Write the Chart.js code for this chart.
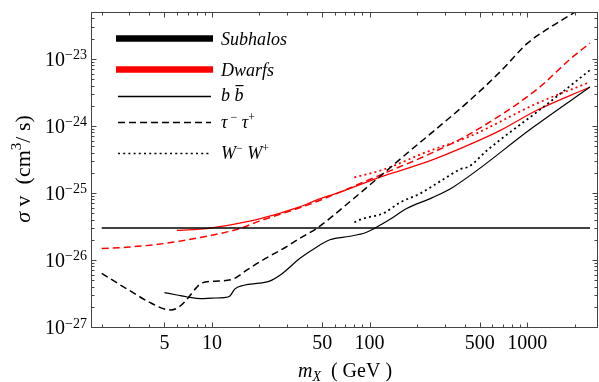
<!DOCTYPE html>
<html><head><meta charset="utf-8">
<script src="https://cdn.jsdelivr.net/npm/chart.js@4/dist/chart.umd.min.js"></script>
<style>html,body{margin:0;padding:0;background:#fff;overflow:hidden}#wrap{width:599px;height:382px}</style>
</head><body><div id="wrap"><canvas id="c" width="599" height="382"></canvas></div>
<script>
// ---------- data (GeV, cm^3/s) ----------
const subhaloLevelMass = [2, 2500];
const subhaloLevelSigma = [3e-26, 3e-26];

const bbSubMass  = [5, 6, 7, 8.5, 10, 12, 13, 14, 16, 20, 23, 28, 36, 45, 56, 75, 94, 110, 134, 172, 250, 340, 1100, 2500];
const bbSubSigma = [3.26e-27, 3.0e-27, 2.8e-27, 2.65e-27, 2.7e-27, 2.75e-27, 2.9e-27, 3.7e-27, 4.2e-27, 4.5e-27, 4.8e-27, 6.3e-27, 1.05e-26, 1.5e-26, 2.0e-26, 2.26e-26, 2.55e-26, 3.05e-26, 4.0e-26, 5.85e-26, 8.5e-26, 1.23e-25, 9.7e-25, 3.8e-24];

const ttSubMass  = [2, 3, 4, 5, 5.5, 6.2, 7, 8, 8.5, 10, 13.3, 17, 20, 30, 36, 46, 79, 100, 123, 172, 254, 433, 690, 1000, 1300, 2000, 2500];
const ttSubSigma = [6.3e-27, 3.5e-27, 2.35e-27, 1.85e-27, 1.8e-27, 2.0e-27, 2.65e-27, 3.9e-27, 4.45e-27, 4.8e-27, 5.1e-27, 7.3e-27, 9.3e-27, 1.6e-26, 2.1e-26, 2.94e-26, 8.2e-26, 1.31e-25, 1.97e-25, 3.87e-25, 8.3e-25, 2.42e-24, 6.8e-24, 1.7e-23, 2.65e-23, 4.95e-23, 6.8e-23];

const wwSubMass  = [80, 90, 123, 156, 209, 294, 375, 430, 555, 1270, 2500];
const wwSubSigma = [3.65e-26, 4.1e-26, 5.0e-26, 7.2e-26, 9.8e-26, 1.6e-25, 2.25e-25, 2.5e-25, 4.3e-25, 1.92e-24, 6.8e-24];

const bbDwMass  = [6, 8, 10, 15, 20, 36, 46, 65, 123, 231, 433, 690, 1150, 2500];
const bbDwSigma = [2.77e-26, 2.85e-26, 3.02e-26, 3.55e-26, 4.1e-26, 6.2e-26, 7.8e-26, 1.03e-25, 1.8e-25, 2.9e-25, 5.3e-25, 8.8e-25, 1.71e-24, 3.8e-24];

const ttDwMass  = [2, 3, 5, 7, 10, 15, 20, 36, 50, 79, 123, 231, 433, 1150, 1880, 2500];
const ttDwSigma = [1.48e-26, 1.56e-26, 1.76e-26, 2.0e-26, 2.34e-26, 2.94e-26, 3.8e-26, 6.0e-26, 8.0e-26, 1.25e-25, 1.95e-25, 3.66e-25, 7.6e-25, 3.5e-24, 1.0e-23, 1.72e-23];

const wwDwMass  = [80, 123, 231, 433, 1150, 2500];
const wwDwSigma = [1.7e-25, 2.24e-25, 4.1e-25, 7.0e-25, 2.16e-24, 4.5e-24];

// ---------- ticks & labels ----------
const xMajorTicks = [5, 10, 50, 100, 500, 1000];
const xMinorTicks = [2, 3, 4, 6, 7, 8, 9, 20, 30, 40, 60, 70, 80, 90, 200, 300, 400, 600, 700, 800, 900, 2000];
const yMajorExponents = [-27, -26, -25, -24, -23];
const yMinorFactors = [2, 3, 4, 5, 6, 7, 8, 9];
const legendLabels = ['Subhalos', 'Dwarfs'];

const SERIF = '"Liberation Serif", "Times New Roman", serif';

function pts(xs, ys) { return xs.map((x, i) => ({x: x, y: ys[i]})); }

function ds(xs, ys, color, width, dash) {
  return {
    data: pts(xs, ys), borderColor: color, borderWidth: width, borderDash: dash || [],
    pointRadius: 0, fill: false, cubicInterpolationMode: 'monotone', borderCapStyle: 'butt'
  };
}

const RED = '#ff0000';
const DASH = [7, 4];
const DOT = [2, 3.2];

function fontOf(p) { return (p.it ? 'italic ' : '') + (p.size || 20) + 'px ' + SERIF; }

function drawRich(ctx, parts, x, y, align) {
  let w = 0;
  for (const p of parts) { ctx.font = fontOf(p); p.w = ctx.measureText(p.t).width + (p.sp || 0); w += p.w; }
  let cx = align === 'right' ? x - w : (align === 'center' ? x - w / 2 : x);
  for (const p of parts) {
    ctx.font = fontOf(p);
    ctx.fillText(p.t, cx, y + (p.dy || 0));
    if (p.bar) {
      const bw = ctx.measureText(p.t).width;
      ctx.fillRect(cx + 1, y - 16, bw - 1, 1.2);
    }
    cx += p.w;
  }
}

const framePlugin = {
  id: 'framePlugin',
  afterDatasetsDraw(chart) {
    const ctx = chart.ctx, a = chart.chartArea;
    const xs = chart.scales.x, ys = chart.scales.y;
    ctx.save();
    // frame
    ctx.strokeStyle = '#444'; ctx.lineWidth = 1;
    ctx.strokeRect(Math.round(a.left) + 0.5, Math.round(a.top) + 0.5, Math.round(a.right - a.left) - 1, Math.round(a.bottom - a.top));
    const L = Math.round(a.left) + 0.5, R = Math.round(a.right) - 0.5, T = Math.round(a.top) + 0.5, B = Math.round(a.bottom) + 0.5;
    ctx.beginPath();
    const xTick = (v, len) => {
      const px = Math.round(xs.getPixelForValue(v)) + 0.5;
      ctx.moveTo(px, B); ctx.lineTo(px, B - len);
      ctx.moveTo(px, T); ctx.lineTo(px, T + len);
    };
    const yTick = (v, len) => {
      const py = Math.round(ys.getPixelForValue(v)) + 0.5;
      if (py < T - 1 || py > B + 1) return;
      ctx.moveTo(L, py); ctx.lineTo(L + len, py);
      ctx.moveTo(R, py); ctx.lineTo(R - len, py);
    };
    xMajorTicks.forEach(v => xTick(v, 5));
    xMinorTicks.forEach(v => xTick(v, 3));
    yMajorExponents.forEach(e => {
      yTick(Math.pow(10, e), 5);
      yMinorFactors.forEach(f => yTick(f * Math.pow(10, e), 3));
    });
    ctx.stroke();

    // tick labels
    ctx.fillStyle = '#000';
    ctx.textBaseline = 'alphabetic';
    xMajorTicks.forEach(v => {
      const px = xs.getPixelForValue(v);
      drawRich(ctx, [{t: String(v), size: 20}], px, 349, 'center');
    });
    yMajorExponents.forEach(e => {
      const py = ys.getPixelForValue(Math.pow(10, e));
      drawRich(ctx, [{t: '10', size: 20}, {t: '\u2212' + Math.abs(e), size: 14, dy: -6.5}], 87, py + 7, 'right');
    });

    // axis titles
    drawRich(ctx, [{t: 'm', it: true, size: 20}, {t: 'X', it: true, size: 14, dy: 4}, {t: '  ( GeV )', size: 20}], 345, 377, 'center');
    ctx.save();
    ctx.translate(30, 169);
    ctx.rotate(-Math.PI / 2);
    drawRich(ctx, [{t: '\u03C3', it: true, size: 22}, {t: ' v  (cm', size: 22}, {t: '3', size: 15, dy: -9}, {t: '/ s)', size: 22}], 0, 0, 'center');
    ctx.restore();

    // legend
    const lx0 = 116, lx1 = 213, tx = 221;
    ctx.lineCap = 'butt';
    ctx.lineWidth = 6.5; ctx.strokeStyle = '#000'; ctx.setLineDash([]);
    ctx.beginPath(); ctx.moveTo(lx0, 38.5); ctx.lineTo(lx1, 38.5); ctx.stroke();
    ctx.strokeStyle = RED;
    ctx.beginPath(); ctx.moveTo(lx0, 69.5); ctx.lineTo(lx1, 69.5); ctx.stroke();
    ctx.strokeStyle = '#000'; ctx.lineWidth = 1.3;
    ctx.beginPath(); ctx.moveTo(118, 96.5); ctx.lineTo(211, 96.5); ctx.stroke();
    ctx.setLineDash(DASH);
    ctx.beginPath(); ctx.moveTo(118, 122.5); ctx.lineTo(211, 122.5); ctx.stroke();
    ctx.setLineDash(DOT); ctx.lineWidth = 1.5;
    ctx.beginPath(); ctx.moveTo(118, 153.5); ctx.lineTo(211, 153.5); ctx.stroke();
    ctx.setLineDash([]);

    ctx.fillStyle = '#000';
    drawRich(ctx, [{t: legendLabels[0], it: true, size: 18}], tx, 45, 'left');
    drawRich(ctx, [{t: legendLabels[1], it: true, size: 18}], tx, 76, 'left');
    drawRich(ctx, [{t: 'b', it: true, size: 18}, {t: ' ', size: 18}, {t: 'b', it: true, size: 18, bar: true}], tx, 101, 'left');
    drawRich(ctx, [{t: '\u03C4', it: true, size: 18}, {t: ' \u2212', size: 12, dy: -7}, {t: ' \u03C4', it: true, size: 18}, {t: '+', size: 12, dy: -7}], tx, 128, 'left');
    drawRich(ctx, [{t: 'W', it: true, size: 18}, {t: '\u2212', size: 12, dy: -7}, {t: ' W', it: true, size: 18}, {t: '+', size: 12, dy: -7}], tx, 159, 'left');
    ctx.restore();
  }
};

new Chart(document.getElementById('c'), {
  type: 'line',
  data: {
    datasets: [
      ds(subhaloLevelMass, subhaloLevelSigma, '#000', 1.3),
      ds(bbSubMass, bbSubSigma, '#000', 1.2),
      ds(ttSubMass, ttSubSigma, '#000', 1.5, DASH),
      ds(wwSubMass, wwSubSigma, '#000', 1.8, DOT),
      ds(bbDwMass, bbDwSigma, RED, 1.3),
      ds(ttDwMass, ttDwSigma, RED, 1.5, DASH),
      ds(wwDwMass, wwDwSigma, RED, 1.8, DOT)
    ]
  },
  options: {
    responsive: false, animation: false, devicePixelRatio: 1,
    layout: {padding: {left: 91, right: 1, top: 12, bottom: 55}},
    plugins: {legend: {display: false}, tooltip: {enabled: false}},
    scales: {
      x: {type: 'logarithmic', min: 1.71, max: 2810, display: false},
      y: {type: 'logarithmic', min: 1e-27, max: 5e-23, display: false}
    }
  },
  plugins: [framePlugin]
});
</script>
</body></html>
